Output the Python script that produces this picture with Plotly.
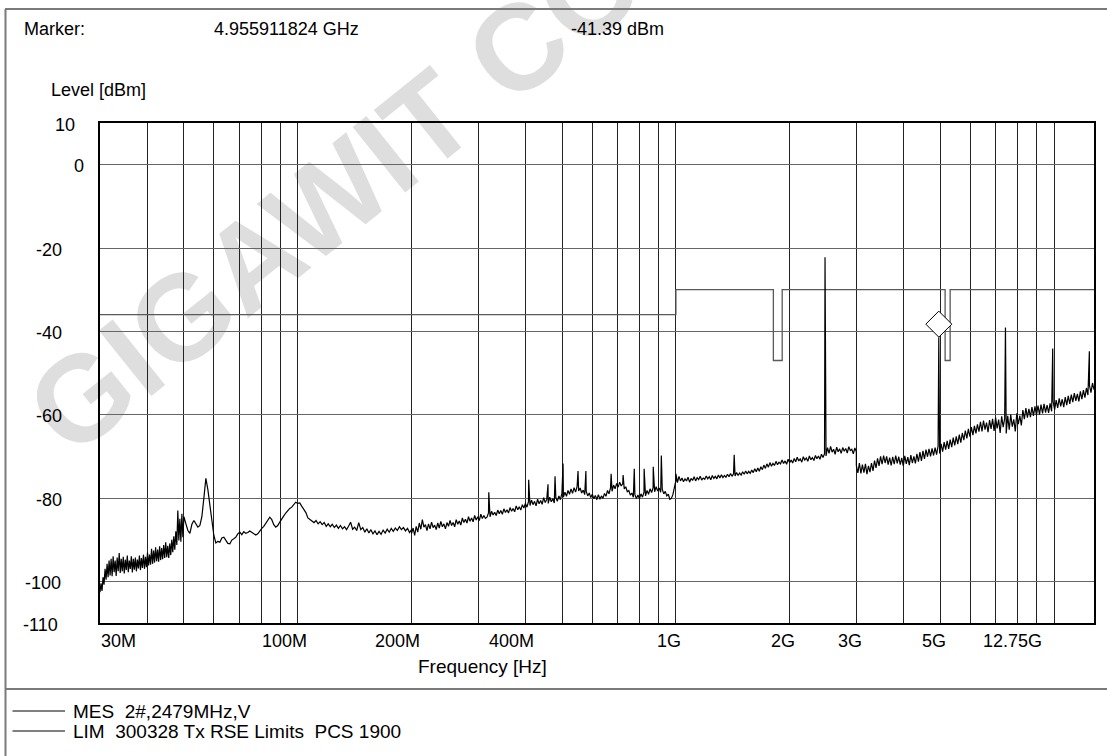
import numpy as np
import plotly.graph_objects as go

# ------------------------------------------------------------------ data
# measured trace, one level list per frequency segment (sweep points log-spaced)
SEG_EDGES_MHZ = [30, 50, 100, 200, 400, 1000, 3000, 12750]

SEG_30_50 = [
    -102.6, -100.5, -102.3, -99.0, -100.8, -97.0, -99.6, -95.8, -99.0, -95.0,
    -98.6, -94.6, -98.8, -94.0, -97.8, -95.0, -98.7, -94.3, -97.6, -93.2,
    -98.0, -94.6, -97.6, -94.1, -98.1, -94.8, -97.3, -93.8, -97.8, -95.0,
    -97.0, -94.0, -97.9, -94.6, -97.2, -94.3, -97.6, -94.8, -96.9, -93.8,
    -97.3, -94.4, -96.8, -93.6, -97.0, -94.1, -96.6, -93.1, -96.2, -93.6,
    -96.0, -92.2, -95.8, -92.6, -95.5, -91.8, -95.2, -92.4, -95.3, -91.6,
    -94.9, -92.0, -94.7, -91.3, -94.4, -90.6, -94.2, -91.5, -94.4, -90.9,
    -93.7, -90.0, -93.0, -89.2, -92.4, -88.0, -91.3, -83.0, -90.2, -85.0,
    -90.5, -83.8, -89.4, -84.8]

SEG_50_100 = [
    -84.5, -86.2, -87.8, -88.5, -86.3, -85.4, -86.4, -87, -86.6, -84.5,
    -80, -75.3, -78, -82, -85.5, -89, -90.8, -90.4, -90.6, -89.6,
    -89.4, -90.2, -90.9, -91, -90.1, -89.8, -89.4, -88.6, -88.2, -88.8,
    -88.1, -88.5, -88.3, -87.9, -88.2, -88.6, -88.9, -88.6, -87.8, -87.3,
    -86.8, -86, -85.3, -84.6, -85.2, -86.4, -87, -86.6, -85.8, -84.9,
    -84.3, -83.6, -83, -82.5, -82.2, -81.6, -81, -81.3]

SEG_100_200 = [
    -81.3, -81.2, -82, -82.8, -83.5, -84.8, -85.2, -85.5, -85.9, -85.4,
    -86.2, -85.7, -86.4, -85.9, -86.8, -86.2, -86.9, -86.3, -87.1, -86.5,
    -87.3, -86.6, -87.4, -86.9, -87.6, -86.8, -85.8, -87.5, -87, -87.8,
    -85.9, -87.6, -87.1, -88.2, -87.4, -88.4, -87.6, -88.6, -87.9, -88.8,
    -88, -88.7, -87.7, -88.4, -87.5, -88.2, -87.3, -88, -87.2, -87.8,
    -86.9, -87.6, -87.1, -87.9, -87.3, -88.3, -87.6]

SEG_200_400 = [
    -88.5, -87.2, -89, -86.8, -88.2, -86, -87.5, -85.2, -87, -86.4,
    -87.8, -86.2, -87.4, -85.8, -87.1, -86.5, -87.6, -86, -87.2, -85.6,
    -86.9, -86.2, -87.4, -85.9, -86.8, -85.4, -86.6, -85.9, -86.9, -85.2,
    -86.3, -85.5, -86.5, -84.8, -85.9, -85.1, -86, -84.5, -85.6, -84.8,
    -85.7, -84.2, -85.3, -84.5, -85.4, -83.9, -84.9, -84.2, -84.9, -84.6,
    -83.6, -84.5, -83.2, -84.1, -83.4, -84.2, -82.9, -83.8, -83, -83.9,
    -82.6, -83.5, -82.8, -83.6, -82.3, -83.2, -82.5, -83.3, -81.9, -82.8,
    -82.1, -82.9, -81.6, -82.4, -81.3]

SEG_400_1000 = [
    -81.3, -82.2, -80.9, -81.8, -80.5, -81.6, -80.8, -81.9, -80.3, -81.4,
    -80.6, -81.5, -79.9, -81.1, -80.4, -81.3, -79.8, -80.9, -80.2, -81.2,
    -79.9, -80.8, -79.5, -80.4, -78.9, -79.8, -78.6, -79.6, -78.2, -79.1,
    -77.8, -78.9, -77.5, -78.6, -77.2, -78.3, -77.6, -78.8, -78.1, -79.2,
    -78.4, -79.5, -78.8, -79.9, -79.1, -80.2, -79.4, -80.4, -79.2, -80.3,
    -79.5, -80.1, -78.9, -79.6, -78.2, -79, -77.5, -78.4, -76.9, -77.8,
    -76.5, -77.4, -76.2, -77.1, -76.6, -77.8, -77.3, -78.5, -78.2, -79.3,
    -78.8, -79.8, -79.2, -80.1, -79.3, -80.2, -79, -79.8, -78.6, -79.5,
    -78.2, -79.1, -77.8, -78.7, -77.5, -78.5, -77.3, -78.3, -77.6, -78.6,
    -77.9, -79, -78.4, -79.5, -79.1, -80.3, -80.1, -79.2, -77.4, -75.8]

SEG_1000_3000 = [
    -74.2, -76.3, -74.8, -75.9, -75.2, -76.1, -75.4, -75.9, -75, -76.2,
    -75.3, -75.8, -74.9, -75.9, -75.1, -75.6, -74.8, -75.7, -75.2, -75.5,
    -74.7, -75.4, -74.9, -75.6, -74.6, -75.3, -74.8, -75.4, -74.5, -75.2,
    -74.4, -75.1, -74.6, -75, -74.3, -74.9, -74.1, -74.8, -74.2, -74.7,
    -73.9, -74.6, -74, -74.5, -73.7, -74.3, -73.5, -74.2, -73.6, -74.1,
    -73.3, -73.9, -73, -73.7, -72.8, -73.6, -72.5, -73.2, -72.1, -72.9,
    -71.8, -72.6, -71.5, -72.4, -71.7, -72.2, -71.2, -72, -71.4, -71.8,
    -70.9, -71.7, -71.1, -71.9, -70.7, -71.5, -70.9, -71.6, -70.5, -71.3,
    -70.2, -71.1, -70.6, -71.4, -70.1, -70.9, -70.4, -71.2, -69.9, -70.8,
    -70.3, -71, -69.8, -70.6, -69.9, -70.7, -69.5, -70.3, -69.4, -69.9,
    -67.9, -69.3, -67.6, -69, -68.3, -69.5, -67.8, -68.9, -68.2, -69.3,
    -67.9, -68.8, -68.1, -69.2, -67.7, -68.6, -68.3, -69.4, -68, -68.9]

SEG_3000_12750 = [
    -72.2, -74.0, -71.6, -74.1, -72.0, -73.9, -71.8, -74.3, -72.3, -73.8,
    -71.6, -73.5, -71.0, -72.8, -70.5, -72.3, -70.0, -71.9, -69.8, -71.6,
    -70.0, -72.0, -70.3, -72.2, -70.1, -71.9, -69.8, -71.7, -70.1, -72.0,
    -70.4, -72.3, -69.9, -71.8, -70.2, -72.1, -69.7, -71.6, -70.0, -71.7,
    -69.4, -71.3, -69.0, -71.1, -68.7, -70.6, -68.4, -70.1, -68.2, -70.0,
    -68.1, -69.8, -67.9, -69.6, -67.5, -69.3, -67.0, -68.9, -66.6, -68.4,
    -66.3, -68.2, -66.0, -67.8, -65.5, -67.4, -65.2, -67.1, -64.8, -66.7,
    -64.4, -66.1, -63.8, -65.7, -63.4, -65.3, -63.0, -64.9, -62.7, -64.5,
    -62.3, -64.1, -61.7, -64.0, -61.4, -63.6, -61.9, -64.2, -61.3, -63.4,
    -61.0, -63.9, -60.7, -63.3, -61.2, -64.4, -60.4, -63.0, -60.9, -64.5,
    -60.3, -63.6, -60.0, -62.9, -61.1, -64.0, -59.7, -62.3, -60.2, -62.6,
    -58.9, -61.1, -58.4, -60.7, -58.6, -60.6, -58.2, -60.3, -58.0, -60.1,
    -57.8, -60.0, -57.6, -59.7, -57.4, -59.5, -57.7, -59.6, -57.3, -59.2,
    -56.9, -58.8, -56.5, -58.4, -56.1, -58.0, -56.3, -58.2, -55.8, -57.7,
    -55.5, -57.4, -55.2, -57.0, -54.8, -56.7, -55.0, -56.8, -54.4, -56.3,
    -54.1, -55.9, -53.6, -55.3, -53.0, -54.7, -52.4, -54.0]

SEGMENTS = [SEG_30_50, SEG_50_100, SEG_100_200, SEG_200_400,
            SEG_400_1000, SEG_1000_3000, SEG_3000_12750]

# narrow discrete emissions (MHz, dBm)
SPIKE_MHZ = [320, 408, 459, 479, 503, 551, 578, 674, 725, 776, 824, 871, 915,
             1426, 2479, 4955.911824, 7437, 9916, 12395]
SPIKE_DBM = [-78.6, -75.6, -76.7, -74.8, -71.7, -73.5, -73.5, -74.2, -74.5,
             -73.0, -73.0, -72.5, -69.8, -69.6, -22.2, -41.39, -39.1, -44.1, -44.8]

# limit line
LIMIT_MHZ = [30, 1000, 1000, 1810, 1810, 1910, 1910, 5150, 5150, 5310, 5310, 12750]
LIMIT_DBM = [-36, -36, -30, -30, -47, -47, -30, -30, -47, -47, -30, -30]

# marker
MARKER_MHZ = 4955.911824
MARKER_DBM = -41.39

# axes
X_GRID_MHZ = [40, 50, 60, 70, 80, 90, 100, 200, 300, 400, 500, 600, 700, 800, 900,
              1000, 2000, 3000, 4000, 5000, 6000, 7000, 8000, 9000, 10000]
X_TICK_TEXT = ["30M", "100M", "200M", "400M", "1G", "2G", "3G", "5G", "12.75G"]
Y_TICKS = [10, 0, -20, -40, -60, -80, -100, -110]
Y_TICK_TEXT = ["10", "0", "-20", "-40", "-60", "-80", "-100", "-110"]

# ------------------------------------------------------------------ build trace
freqs, levels = [], []
for i, seg in enumerate(SEGMENTS):
    f = np.geomspace(SEG_EDGES_MHZ[i], SEG_EDGES_MHZ[i + 1], len(seg))
    freqs.extend(f.tolist())
    levels.extend(seg)
freqs.extend(SPIKE_MHZ)
levels.extend(SPIKE_DBM)
order = np.argsort(np.array(freqs), kind="stable")
trace_hz = np.array(freqs)[order] * 1e6
trace_db = np.array(levels)[order]

# ------------------------------------------------------------------ layout geometry (pixels)
W, H = 1107, 756
L, T, PW, PH = 100, 123, 994, 500
R = W - L - PW
B = H - T - PH
Y_MIN, Y_MAX = -110, 10
PX_PER_DB = PH / (Y_MAX - Y_MIN)


def xp(p):
    return (p - L) / PW


def yp(p):
    return (T + PH - p) / PH


FONT = "Liberation Sans"
FS = 18

fig = go.Figure()

fig.add_trace(go.Scatter(x=[f * 1e6 for f in LIMIT_MHZ], y=LIMIT_DBM, mode="lines",
                         line=dict(color="#5a5a5a", width=1.3), hoverinfo="skip"))
fig.add_trace(go.Scatter(x=trace_hz, y=trace_db, mode="lines",
                         line=dict(color="black", width=1.2), hoverinfo="skip"))

MARKER_SIZE = 20
diamond_half_px = 0.65 * MARKER_SIZE
fig.add_trace(go.Scatter(x=[MARKER_MHZ * 1e6], y=[MARKER_DBM + diamond_half_px / PX_PER_DB],
                         mode="markers",
                         marker=dict(symbol="diamond", size=MARKER_SIZE, color="white",
                                     line=dict(color="black", width=1)),
                         hoverinfo="skip"))

# ------------------------------------------------------------------ annotations
ann = []


def text(px, py, s, anchor="left", size=FS):
    ann.append(dict(x=xp(px), y=yp(py), xref="paper", yref="paper", text=s,
                    showarrow=False, xanchor=anchor, yanchor="middle",
                    font=dict(family=FONT, size=size, color="black")))


text(22, 29.5, "Marker:")
text(212, 29.5, "%.9f GHz" % (MARKER_MHZ / 1000))
text(569, 29.5, "%.2f dBm" % MARKER_DBM)
text(49, 89.5, "Level [dBm]")

Y_LABEL_RIGHT_PX = [77, 86, 64, 64, 64, 64, 63, 60]
for v, s, rx in zip(Y_TICKS, Y_TICK_TEXT, Y_LABEL_RIGHT_PX):
    py = T + (Y_MAX - v) * PX_PER_DB + 1.5
    text(rx, py, s, anchor="right")

X_LABEL_CENTER_PX = [118, 284, 397.5, 511, 669, 783, 849.5, 933.5, 1012]
for s, cx in zip(X_TICK_TEXT, X_LABEL_CENTER_PX):
    text(cx, 640.5, s, anchor="center")

text(482.5, 666, "Frequency [Hz]", anchor="center", size=19)

LEGEND_TEXT = ["MES\u00a0\u00a02#,2479MHz,V",
               "LIM\u00a0\u00a0300328 Tx RSE Limits\u00a0\u00a0PCS 1900"]
LEGEND_Y_PX = [711, 731]
for s, ly in zip(LEGEND_TEXT, LEGEND_Y_PX):
    text(71, ly, s, size=19)

# ------------------------------------------------------------------ shapes
shapes = []
BORDER = "#7a7a7a"
shapes.append(dict(type="line", xref="paper", yref="paper", x0=xp(5.5), x1=xp(5.5),
                   y0=yp(9), y1=yp(760), line=dict(color=BORDER, width=2)))
shapes.append(dict(type="line", xref="paper", yref="paper", x0=xp(5), x1=xp(1110),
                   y0=yp(9), y1=yp(9), line=dict(color=BORDER, width=2)))
shapes.append(dict(type="line", xref="paper", yref="paper", x0=xp(5), x1=xp(1110),
                   y0=yp(689), y1=yp(689), line=dict(color=BORDER, width=2)))
for ly in LEGEND_Y_PX:
    shapes.append(dict(type="line", xref="paper", yref="paper", x0=xp(12.5), x1=xp(65),
                       y0=yp(ly), y1=yp(ly), line=dict(color="black", width=1)))

# watermark (behind the grid)
wm_cx, wm_cy, wm_ang = 328, 185, 38.7
dx, dy = np.cos(np.radians(wm_ang)) * 100, np.sin(np.radians(wm_ang)) * 100
shapes.append(dict(type="line", layer="below", xref="paper", yref="paper",
                   x0=xp(wm_cx - dx), y0=yp(wm_cy + dy), x1=xp(wm_cx + dx), y1=yp(wm_cy - dy),
                   line=dict(color="rgba(0,0,0,0)", width=0),
                   label=dict(text="<b>GIGAWIT CO</b>", textangle=-wm_ang,
                              textposition="middle", xanchor="center", yanchor="middle",
                              padding=0,
                              font=dict(family=FONT, size=122, color="#dedede"))))

fig.update_layout(
    width=W, height=H,
    margin=dict(l=L, r=R, t=T, b=B, pad=0),
    paper_bgcolor="white", plot_bgcolor="rgba(0,0,0,0)",
    showlegend=False,
    font=dict(family=FONT, size=FS, color="black"),
    annotations=ann, shapes=shapes,
    xaxis=dict(type="log", range=[np.log10(30e6), np.log10(12.75e9)],
               tickmode="array", tickvals=[f * 1e6 for f in X_GRID_MHZ],
               showticklabels=False, ticks="", showgrid=True, gridcolor="#222222",
               gridwidth=1, zeroline=False, showline=True, mirror=True,
               linecolor="black", linewidth=1.5),
    yaxis=dict(range=[Y_MIN, Y_MAX], tickmode="array", tickvals=Y_TICKS,
               showticklabels=False, ticks="", showgrid=True, gridcolor="#666666",
               gridwidth=1, zeroline=False, showline=True, mirror=True,
               linecolor="black", linewidth=1.5),
)

fig.write_html("out.html",
               config={"displayModeBar": False},
               post_script="document.body.style.margin='0';"
                           "document.body.style.overflow='hidden';")
